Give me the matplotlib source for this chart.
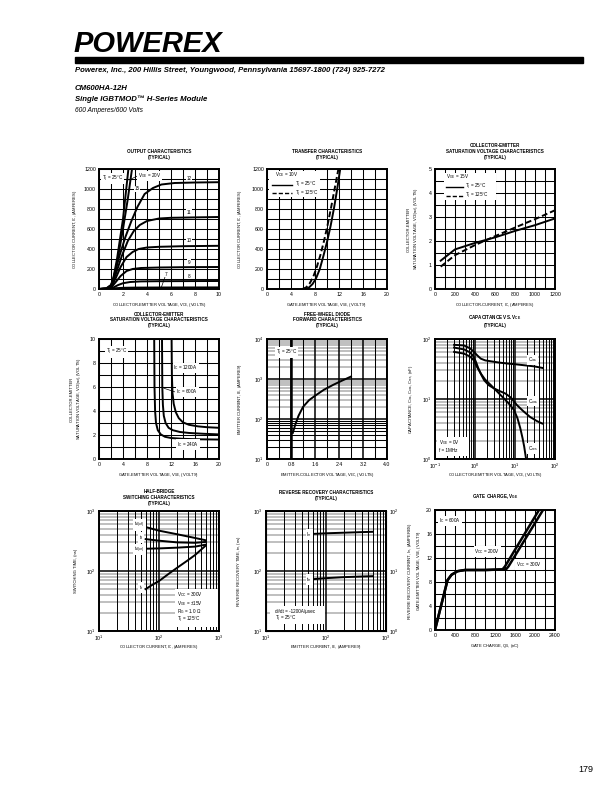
import numpy as np
import matplotlib.pyplot as plt
from matplotlib.ticker import MultipleLocator, NullFormatter, LogLocator
from matplotlib.patches import Rectangle
from matplotlib.lines import Line2D

plt.rcParams['font.family'] = ['Liberation Sans', 'DejaVu Sans']
plt.rcParams['mathtext.fontset'] = 'custom'
plt.rcParams['mathtext.rm'] = 'Liberation Sans'
plt.rcParams['mathtext.it'] = 'Liberation Sans:italic'
plt.rcParams['mathtext.bf'] = 'Liberation Sans:bold'
plt.rcParams['mathtext.default'] = 'regular'

# ---------------- data ----------------
# output characteristics (Tj = 25C): I_C (A) vs V_CE (V), one pair per V_GE
out_vce_20 = [0, 0.6, 1.0, 1.2, 1.5, 2.0, 2.45]
out_ic_20 = [0, 5, 40, 110, 300, 700, 1200]
out_vce_15 = [0, 0.6, 1.0, 1.2, 1.5, 2.0, 2.4, 2.75]
out_ic_15 = [0, 5, 38, 100, 260, 600, 900, 1200]
out_vce_12 = [0, 0.8, 1.0, 1.3, 1.7, 2.2, 2.7, 3.2, 3.8, 4.5, 5.2, 6.3, 8, 10]
out_ic_12 = [0, 5, 20, 150, 330, 520, 680, 820, 950, 1010, 1045, 1060, 1065, 1068]
out_vce_11 = [0, 0.8, 1.0, 1.4, 1.9, 2.4, 2.9, 3.4, 4.0, 5, 6, 8, 10]
out_ic_11 = [0, 5, 20, 150, 330, 480, 580, 640, 680, 705, 712, 716, 720]
out_vce_10 = [0, 0.8, 1.0, 1.4, 1.8, 2.3, 2.8, 3.3, 4, 5, 7, 10]
out_ic_10 = [0, 4, 15, 110, 220, 320, 370, 400, 415, 422, 428, 432]
out_vce_9 = [0, 0.8, 1.0, 1.4, 1.8, 2.3, 2.8, 3.5, 5, 7, 10]
out_ic_9 = [0, 3, 12, 70, 130, 180, 200, 210, 215, 218, 220]
out_vce_8 = [0, 0.9, 1.2, 1.6, 2.0, 2.6, 3.5, 5, 10]
out_ic_8 = [0, 3, 15, 40, 58, 70, 76, 78, 80]
out_vce_7 = [0, 1.0, 1.4, 2, 3, 5, 10]
out_ic_7 = [0, 3, 8, 12, 14, 15, 16]

# transfer characteristics (VCE = 10V)
tr_vge_25 = [6.4, 7.0, 7.6, 8.2, 8.8, 9.4, 10.0, 10.6, 11.2, 11.7, 12.2]
tr_ic_25 = [0, 15, 50, 110, 200, 330, 470, 630, 820, 1000, 1200]
tr_vge_125 = [5.9, 6.5, 7.1, 7.7, 8.3, 8.9, 9.5, 10.1, 10.7, 11.3, 11.9]
tr_ic_125 = [0, 15, 55, 120, 220, 340, 480, 640, 820, 1010, 1200]

# VCE(sat) vs IC (VGE = 15V)
sat_ic = [57, 200, 400, 600, 800, 1000, 1200]
sat_v_25 = [1.18, 1.65, 1.92, 2.15, 2.42, 2.66, 2.94]
sat_v_125 = [0.93, 1.41, 1.83, 2.2, 2.56, 2.91, 3.28]

# VCE(sat) vs VGE (Tj = 25C)
vg_240 = [9.2, 9.25, 9.35, 9.5, 9.8, 10.3, 11, 12, 14, 17, 20]
vc_240 = [10, 6, 4, 3, 2.4, 2.05, 1.85, 1.75, 1.68, 1.64, 1.62]
vg_600 = [10.5, 10.55, 10.65, 10.8, 11.1, 11.6, 12.3, 13.5, 15, 17.5, 20]
vc_600 = [10, 6, 4.5, 3.6, 3.0, 2.6, 2.4, 2.25, 2.17, 2.1, 2.05]
vg_1200 = [12.1, 12.15, 12.25, 12.45, 12.8, 13.3, 14, 15, 16.5, 18, 20]
vc_1200 = [10, 7, 5.5, 4.6, 3.9, 3.4, 3.05, 2.85, 2.72, 2.65, 2.6]

# free-wheel diode forward characteristics
fwd_v = [0.86, 0.95, 1.05, 1.2, 1.4, 1.6, 1.9, 2.2, 2.5, 2.8]
fwd_i = [45, 75, 120, 200, 295, 380, 540, 710, 910, 1150]

# capacitance vs VCE (nF)
cies_v = [0.3, 0.53, 0.75, 0.94, 1.15, 1.4, 1.8, 2.5, 4, 6.5, 10, 17, 30, 48]
cies_c = [80, 78, 70, 61, 53, 47, 44, 42.5, 40.5, 39, 38, 36.5, 35, 33]
coes_v = [0.3, 0.53, 0.75, 0.9, 1.05, 1.2, 1.45, 1.7, 2.2, 3.0, 4.2, 5.8, 8, 11, 16, 24, 35, 48]
coes_c = [72, 67, 60, 52, 42, 33, 25, 20.5, 17, 15, 13.5, 12.3, 10.5, 8, 6.3, 5, 4.3, 3.9]
cres_v = [0.3, 0.53, 0.75, 0.94, 1.1, 1.4, 1.8, 2.5, 3.5, 5.3, 7.5, 9.5, 11.5, 13.5, 15.5, 17, 18.5, 19.5]
cres_c = [61, 57, 51, 44, 35, 26.5, 21, 17, 13.5, 10.2, 8, 6.5, 4.8, 3.3, 2.2, 1.6, 1.1, 0.9]

# half-bridge switching times (ns)
sw_ic = [60, 100, 200, 400, 600]
sw_tdoff = [540, 470, 410, 355, 325]
sw_tf = [340, 320, 300, 295, 305]
sw_tdon = [235, 238, 245, 255, 275]
sw_tr_ic = [60, 80, 100, 150, 200, 300, 400, 600]
sw_tr = [50, 60, 68, 92, 113, 150, 185, 265]

# reverse recovery
rr_ie = [60, 100, 200, 400, 600]
rr_irr = [41.5, 42.5, 43.5, 44.5, 45]
rr_trr = [73, 76, 79, 81, 82]

# gate charge
gc_q_200 = [0, 120, 250, 330, 450, 600, 1000, 1350, 1400, 2080]
gc_v_200 = [0, 4, 8.3, 9.2, 9.8, 10, 10, 10.1, 10.6, 20]
gc_q_300 = [0, 120, 250, 330, 450, 600, 1000, 1420, 1470, 2160]
gc_v_300 = [0, 4, 8.3, 9.2, 9.8, 10, 10, 10.1, 10.6, 20]

# ---------------- figure ----------------
W, H = 612, 792
fig = plt.figure(figsize=(W / 100, H / 100), dpi=100)

TICK = 3.8
LAB = 3.0
TIT = 3.3
NOTE = 3.3
LW = 1.4
WB = dict(facecolor='white', edgecolor='none', pad=0.6)


def add_ax(l, t, r, b):
    ax = fig.add_axes([l / W, 1 - b / H, (r - l) / W, (b - t) / H])
    for s in ax.spines.values():
        s.set_linewidth(1.4)
    ax.tick_params(which='both', length=0, labelsize=TICK, pad=2.2)
    return ax


def lin_grid(ax, xs, ys):
    ax.xaxis.set_minor_locator(MultipleLocator(xs))
    ax.yaxis.set_minor_locator(MultipleLocator(ys))
    ax.grid(which='both', color='black', lw=0.75)


def log_grid(ax, xlog=True, dark=()):
    ax.grid(which='major', color='black', lw=1.1)
    if xlog:
        ax.xaxis.set_minor_locator(LogLocator(base=10, subs=range(2, 10), numticks=20))
        ax.xaxis.set_minor_formatter(NullFormatter())
        ax.grid(which='minor', axis='x', color='black', lw=0.7)
    ax.yaxis.set_minor_formatter(NullFormatter())
    lo, hi = ax.get_ylim()
    d = lo
    while d < hi * 0.99:
        dk = any(abs(d - x) < 1e-9 for x in dark)
        for k in range(2, 10):
            ax.axhline(d * k, color='black' if dk else '#b4b4b4',
                       lw=0.75 if dk else 1.2, zorder=1)
        d *= 10


def labels(ax, xl, yl, xc, yc):
    ax.set_xlabel(xl, fontsize=LAB)
    ax.set_ylabel(yl, fontsize=LAB)
    ax.xaxis.set_label_coords(0.5, xc)
    ax.yaxis.set_label_coords(yc, 0.5)


def title(cx, ybot, txt):
    fig.text(cx / W, 1 - ybot / H, txt, ha='center', va='bottom',
             fontsize=TIT, weight='bold', linespacing=1.15)


# ---------------- header ----------------
fig.text(73 / W, 1 - 52 / H, "POWEREX", fontsize=21, weight='heavy', style='italic',
         va='baseline', ha='left')
for x0 in [72, 76, 80, 84]:
    fig.add_artist(Line2D([x0 / W, (x0 + 9) / W], [1 - 52 / H, 1 - 31 / H],
                          color='white', lw=0.7, transform=fig.transFigure))
fig.add_artist(Rectangle((75 / W, 1 - 63 / H), (583 - 75) / W, 6 / H,
                         transform=fig.transFigure, color='black'))
NARROW = ['Liberation Sans Narrow', 'Liberation Sans']
fig.text(75 / W, 1 - 71 / H,
         "Powerex, Inc., 200 Hillis Street, Youngwood, Pennsylvania 15697-1800 (724) 925-7272",
         fontsize=5.6, weight='bold', style='italic', va='center', family=NARROW)
fig.text(75 / W, 1 - 89 / H, "CM600HA-12H", fontsize=5.6, weight='bold', style='italic',
         va='center', family=NARROW)
fig.text(75 / W, 1 - 99 / H, "Single IGBTMOD\u2122 H-Series Module", fontsize=5.6,
         weight='bold', style='italic', va='center', family=NARROW)
fig.text(75 / W, 1 - 110 / H, "600 Amperes/600 Volts", fontsize=4.8, style='italic',
         va='center', family=NARROW)
fig.text(586 / W, 1 - 770 / H, "179", fontsize=6.5, ha='center', va='center')

# ---------------- 1. output characteristics ----------------
ax = add_ax(99, 169, 219, 289)
ax.set_xlim(0, 10)
ax.set_ylim(0, 1200)
ax.set_xticks(range(0, 11, 2))
ax.set_yticks(range(0, 1201, 200))
lin_grid(ax, 1, 100)
for xs, ys in [(out_vce_20, out_ic_20), (out_vce_15, out_ic_15), (out_vce_12, out_ic_12),
               (out_vce_11, out_ic_11), (out_vce_10, out_ic_10), (out_vce_9, out_ic_9),
               (out_vce_8, out_ic_8), (out_vce_7, out_ic_7)]:
    ax.plot(xs, ys, color='black', lw=LW)
for t, yy in [("12", 1110), ("11", 770), ("10", 480), ("9", 270), ("8", 130)]:
    ax.text(7.5, yy, t, fontsize=NOTE, ha='center', va='center', bbox=WB, zorder=3)
ax.text(5.6, 150, "7", fontsize=NOTE, ha='center', va='center', bbox=WB, zorder=3)
ax.plot([5.5, 5.2], [120, 18], color='black', lw=0.5)
ax.text(2.95, 1000, "15", fontsize=NOTE, ha='left', va='center', bbox=WB, zorder=3)
ax.text(0.25, 1105, "T$_j$ = 25°C", fontsize=NOTE, ha='left', va='center', bbox=WB, zorder=3)
ax.text(3.25, 1132, "V$_{GE}$ = 20V", fontsize=NOTE, ha='left', va='center', bbox=WB, zorder=3)
ax.plot([2.5, 3.2], [1090, 1130], color='black', lw=0.5)
labels(ax, "COLLECTOR-EMITTER VOLTAGE, V$_{CE}$, (VOLTS)",
       "COLLECTOR CURRENT, I$_C$, (AMPERES)", -0.1, -0.165)
title(159, 159.5, "OUTPUT CHARACTERISTICS\n(TYPICAL)")

# ---------------- 2. transfer characteristics ----------------
ax = add_ax(267, 169, 387, 289)
ax.set_xlim(0, 20)
ax.set_ylim(0, 1200)
ax.set_xticks(range(0, 21, 4))
ax.set_yticks(range(0, 1201, 200))
lin_grid(ax, 2, 100)
ax.plot(tr_vge_25, tr_ic_25, color='black', lw=LW)
ax.plot(tr_vge_125, tr_ic_125, color='black', lw=LW, ls=(0, (3, 1.5)))
ax.add_patch(Rectangle((0.4, 920), 8.4, 265, facecolor='white', edgecolor='none', zorder=2.5))
ax.text(1.3, 1148, "V$_{CE}$ = 10V", fontsize=NOTE, va='center', zorder=3)
ax.plot([0.8, 4.2], [1045, 1045], color='black', lw=1.0, zorder=3)
ax.text(4.6, 1045, "T$_j$ = 25°C", fontsize=NOTE, va='center', zorder=3)
ax.plot([0.8, 4.2], [955, 955], color='black', lw=1.0, ls=(0, (3, 1.5)), zorder=3)
ax.text(4.6, 955, "T$_j$ = 125°C", fontsize=NOTE, va='center', zorder=3)
labels(ax, "GATE-EMITTER VOLTAGE, V$_{GE}$, (VOLTS)",
       "COLLECTOR CURRENT, I$_C$, (AMPERES)", -0.1, -0.19)
title(327, 159.5, "TRANSFER CHARACTERISTICS\n(TYPICAL)")

# ---------------- 3. VCE(sat) vs IC ----------------
ax = add_ax(435, 169, 555, 289)
ax.set_xlim(0, 1200)
ax.set_ylim(0, 5)
ax.set_xticks(range(0, 1201, 200))
ax.set_yticks(range(0, 6))
lin_grid(ax, 100, 0.5)
ax.plot(sat_ic, sat_v_25, color='black', lw=LW)
ax.plot(sat_ic, sat_v_125, color='black', lw=LW, ls=(0, (3, 1.5)))
ax.add_patch(Rectangle((85, 3.7), 520, 1.14, facecolor='white', edgecolor='none', zorder=2.5))
ax.text(110, 4.68, "V$_{GE}$ = 15V", fontsize=NOTE, va='center', zorder=3)
ax.plot([105, 275], [4.27, 4.27], color='black', lw=1.0, zorder=3)
ax.text(300, 4.27, "T$_j$ = 25°C", fontsize=NOTE, va='center', zorder=3)
ax.plot([105, 275], [3.88, 3.88], color='black', lw=1.0, ls=(0, (3, 1.5)), zorder=3)
ax.text(300, 3.88, "T$_j$ = 125°C", fontsize=NOTE, va='center', zorder=3)
labels(ax, "COLLECTOR-CURRENT, I$_C$, (AMPERES)",
       "COLLECTOR-EMITTER\nSATURATION VOLTAGE, V$_{CE(sat)}$, (VOLTS)", -0.1, -0.117)
title(495, 159.5, "COLLECTOR-EMITTER\nSATURATION VOLTAGE CHARACTERISTICS\n(TYPICAL)")

# ---------------- 4. VCE(sat) vs VGE ----------------
ax = add_ax(99, 339, 219, 459)
ax.set_xlim(0, 20)
ax.set_ylim(0, 10)
ax.set_xticks(range(0, 21, 4))
ax.set_yticks(range(0, 11, 2))
lin_grid(ax, 2, 1)
ax.plot(vg_240, vc_240, color='black', lw=LW)
ax.plot(vg_600, vc_600, color='black', lw=LW)
ax.plot(vg_1200, vc_1200, color='black', lw=LW)
ax.text(12.4, 7.6, "I$_C$ = 1200A", fontsize=NOTE, va='center', bbox=WB, zorder=3)
ax.text(12.9, 5.6, "I$_C$ = 600A", fontsize=NOTE, va='center', bbox=WB, zorder=3)
ax.plot([10.8, 12.6], [5.9, 5.6], color='black', lw=0.5)
ax.text(13.0, 1.2, "I$_C$ = 240A", fontsize=NOTE, va='center', bbox=WB, zorder=3)
ax.text(1.1, 8.9, "T$_j$ = 25°C", fontsize=NOTE, va='center', bbox=WB, zorder=3)
labels(ax, "GATE-EMITTER VOLTAGE, V$_{GE}$, (VOLTS)",
       "COLLECTOR-EMITTER\nSATURATION VOLTAGE, V$_{CE(sat)}$, (VOLTS)", -0.1, -0.125)
title(159, 328, "COLLECTOR-EMITTER\nSATURATION VOLTAGE CHARACTERISTICS\n(TYPICAL)")

# ---------------- 5. diode forward ----------------
ax = add_ax(267, 339, 387, 459)
ax.set_yscale('log')
ax.set_xlim(0, 4)
ax.set_ylim(10, 1e4)
ax.set_xticks([0, 0.8, 1.6, 2.4, 3.2, 4.0])
ax.set_xticklabels(["0", "0.8", "1.6", "2.4", "3.2", "4.0"])
ax.xaxis.set_minor_locator(MultipleLocator(0.4))
ax.grid(which='both', axis='x', color='black', lw=0.75)
log_grid(ax, xlog=False, dark=(10,))
ax.axvline(0.8, color='black', lw=1.8, zorder=1.6)
ax.plot(fwd_v, fwd_i, color='black', lw=LW)
ax.text(0.3, 4600, "T$_j$ = 25°C", fontsize=NOTE, va='center', bbox=WB, zorder=3)
labels(ax, "EMITTER-COLLECTOR VOLTAGE, V$_{EC}$, (VOLTS)",
       "EMITTER CURRENT, I$_E$, (AMPERES)", -0.1, -0.19)
title(327, 328, "FREE-WHEEL DIODE\nFORWARD CHARACTERISTICS\n(TYPICAL)")

# ---------------- 6. capacitance ----------------
ax = add_ax(435, 339, 555, 459)
ax.set_xscale('log')
ax.set_yscale('log')
ax.set_xlim(0.1, 100)
ax.set_ylim(1, 100)
log_grid(ax)
ax.plot(cies_v, cies_c, color='black', lw=LW)
ax.plot(coes_v, coes_c, color='black', lw=LW)
ax.plot(cres_v, cres_c, color='black', lw=LW)
ax.text(21, 45, "C$_{ies}$", fontsize=NOTE, va='center', bbox=WB, zorder=3)
ax.text(21, 9.2, "C$_{oes}$", fontsize=NOTE, va='center', bbox=WB, zorder=3)
ax.text(21, 1.5, "C$_{res}$", fontsize=NOTE, va='center', bbox=WB, zorder=3)
ax.add_patch(Rectangle((0.11, 1.12), 0.6, 1.25, facecolor='white', edgecolor='none', zorder=2.5))
ax.text(0.125, 1.9, "V$_{GE}$ = 0V", fontsize=NOTE, va='center', zorder=3)
ax.text(0.125, 1.38, "f = 1MHz", fontsize=NOTE, va='center', zorder=3)
labels(ax, "COLLECTOR-EMITTER VOLTAGE, V$_{CE}$, (VOLTS)",
       "CAPACITANCE, C$_{ies}$, C$_{oes}$, C$_{res}$, (nF)", -0.1, -0.163)
title(495, 328, "CAPACITANCE VS. V$_\\mathbf{CE}$\n(TYPICAL)")

# ---------------- 7. switching ----------------
ax = add_ax(99, 511, 219, 631)
ax.set_xscale('log')
ax.set_yscale('log')
ax.set_xlim(10, 1000)
ax.set_ylim(10, 1000)
log_grid(ax)
ax.plot(sw_ic, sw_tdoff, color='black', lw=LW)
ax.plot(sw_ic, sw_tf, color='black', lw=LW)
ax.plot(sw_ic, sw_tdon, color='black', lw=LW)
ax.plot(sw_tr_ic, sw_tr, color='black', lw=LW)
ax.text(58, 590, "t$_{d(off)}$", fontsize=NOTE, ha='right', va='center', bbox=WB, zorder=3)
ax.text(55, 365, "t$_f$", fontsize=NOTE, ha='right', va='center', bbox=WB, zorder=3)
ax.text(58, 228, "t$_{d(on)}$", fontsize=NOTE, ha='right', va='center', bbox=WB, zorder=3)
ax.text(55, 53, "t$_r$", fontsize=NOTE, ha='right', va='center', bbox=WB, zorder=3)
ax.add_patch(Rectangle((185, 11.5), 800, 38, facecolor='white', edgecolor='none', zorder=2.5))
for yy, t in [(40, "V$_{CC}$ = 300V"), (29, "V$_{GE}$ = ±15V"),
              (21, "R$_G$ = 1.0 Ω"), (15.2, "T$_j$ = 125°C")]:
    ax.text(200, yy, t, fontsize=NOTE, va='center', zorder=3)
labels(ax, "COLLECTOR CURRENT, I$_C$, (AMPERES)", "SWITCHING TIME, (ns)", -0.1, -0.175)
title(159, 505.5, "HALF-BRIDGE\nSWITCHING CHARACTERISTICS\n(TYPICAL)")

# ---------------- 8. reverse recovery ----------------
ax = add_ax(266, 511, 386, 631)
ax.set_xscale('log')
ax.set_yscale('log')
ax.set_xlim(10, 1000)
ax.set_ylim(10, 1000)
log_grid(ax)
ax2 = ax.twinx()
ax2.set_yscale('log')
ax2.set_ylim(1, 100)
ax2.tick_params(which='both', length=0, labelsize=TICK, pad=2.2)
ax2.yaxis.set_minor_formatter(NullFormatter())
ax.plot(rr_ie, rr_trr, color='black', lw=LW)
ax2.plot(rr_ie, rr_irr, color='black', lw=LW)
ax2.text(58, 41, "I$_{rr}$", fontsize=NOTE, ha='right', va='center', bbox=WB, zorder=3)
ax.text(58, 72, "t$_{rr}$", fontsize=NOTE, ha='right', va='center', bbox=WB, zorder=3)
ax.add_patch(Rectangle((11.5, 13), 85, 13, facecolor='white', edgecolor='none', zorder=2.5))
ax.text(14, 21.5, "di/dt = -1200A/μsec", fontsize=NOTE, va='center', zorder=3)
ax.text(14, 16, "T$_j$ = 25°C", fontsize=NOTE, va='center', zorder=3)
labels(ax, "EMITTER CURRENT, I$_E$, (AMPERES)",
       "REVERSE RECOVERY TIME, t$_{rr}$, (ns)", -0.1, -0.19)
ax2.set_ylabel("REVERSE RECOVERY CURRENT, I$_{rr}$, (AMPERES)", fontsize=LAB)
ax2.yaxis.set_label_coords(1.17, 0.5)
title(326, 501, "REVERSE RECOVERY CHARACTERISTICS\n(TYPICAL)")

# ---------------- 9. gate charge ----------------
ax = add_ax(435, 510, 555, 630)
ax.set_xlim(0, 2400)
ax.set_ylim(0, 20)
ax.set_xticks(range(0, 2401, 400))
ax.set_yticks(range(0, 21, 4))
lin_grid(ax, 200, 2)
ax.plot(gc_q_200, gc_v_200, color='black', lw=1.8)
ax.plot(gc_q_300, gc_v_300, color='black', lw=1.8)
ax.text(80, 18.2, "I$_C$ = 600A", fontsize=NOTE, va='center', bbox=WB, zorder=3)
ax.text(790, 13.1, "V$_{CC}$ = 200V", fontsize=NOTE, va='center', bbox=WB, zorder=3)
ax.text(1620, 10.9, "V$_{CC}$ = 300V", fontsize=NOTE, va='center', bbox=WB, zorder=3)
labels(ax, "GATE CHARGE, Q$_G$, (nC)", "GATE-EMITTER VOLTAGE, V$_{GE}$, (VOLTS)", -0.1, -0.1)
title(495, 501, "GATE CHARGE, V$_\\mathbf{GE}$")

fig.savefig("out.png", dpi=100, facecolor='white')
